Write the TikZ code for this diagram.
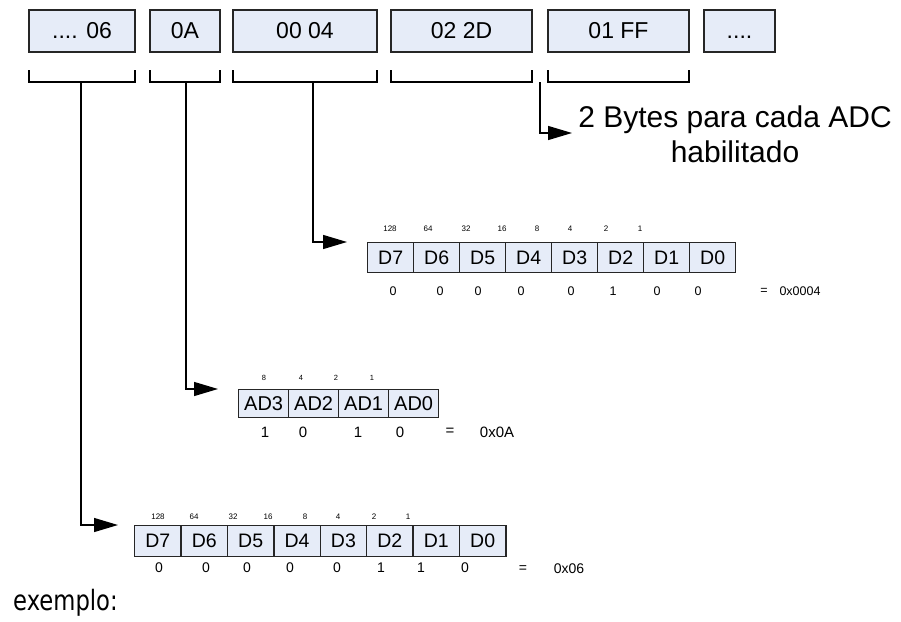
\documentclass[tikz,border=0pt]{standalone}
\usepackage{fontspec}
\usepackage{graphicx}
\setmainfont{Liberation Sans}
\newfontfamily\exfont{DejaVu Sans}
\usetikzlibrary{arrows.meta}
\definecolor{cellblue}{RGB}{230,236,248}
\tikzset{
 box/.style={draw=black!85,line width=1.3pt,fill=cellblue,inner sep=0pt,font=\fontsize{23}{26}\selectfont},
 bit/.style={box,anchor=north west,font=\fontsize{19.5}{22}\selectfont},
 wt/.style={font=\fontsize{8}{9}\selectfont,inner sep=0pt},
 val/.style={font=\fontsize{12.5}{14}\selectfont,inner sep=0pt},
 link/.style={line width=1.3pt,-{Triangle[length=24pt,width=14pt]}}
}
\begin{document}
\begin{tikzpicture}[x=1pt,y=-1pt]
\useasboundingbox (0,0) rectangle (901,621);
\node[box,minimum width=106pt,minimum height=42pt] (b1) at (82,31) {.... 06};
\node[box,minimum width=70pt,minimum height=42pt] (b2) at (185,31) {0A};
\node[box,minimum width=144pt,minimum height=42pt] (b3) at (305,31) {00 04};
\node[box,minimum width=141pt,minimum height=42pt] (b4) at (461.5,31) {02 2D};
\node[box,minimum width=141pt,minimum height=42pt] (b5) at (618.5,31) {01 FF};
\node[box,minimum width=71pt,minimum height=42pt] (b6) at (739.5,31) {\vphantom{0}....};
\foreach \a/\b in {29/135,150/220,233/377,391/532,548/689}
	\draw[line width=1.3pt] (\a,70) |- (\b,82) -- (\b,70);
\coordinate (k1) at (81,82);
\coordinate (k2) at (186,82);
\coordinate (k3) at (313,82);
\coordinate (k4) at (540,82);
\coordinate (t4) at (572,133);

\node[anchor=base,font=\fontsize{30}{35}\selectfont,inner sep=0pt] (bytes) at (735,127) {2 Bytes para cada ADC};
\node[anchor=base,font=\fontsize{30}{35}\selectfont,inner sep=0pt] (habil) at (735,162) {habilitado};
\draw[link] (k4) |- (t4);

\foreach \t [count=\i] in {D7,D6,D5,D4,D3,D2,D1,D0}
	\node[bit,minimum width=46pt,minimum height=30pt] (ra\i) at ({367+46*(\i-1)},242) {\t};
\foreach \w/\x [count=\i] in {128/390,64/428,32/466,16/502,8/537,4/570,2/606,1/640}
	\node[wt] (wa\i) at (\x,229) {\w};
\foreach \v/\x [count=\i] in {0/393,0/440,0/478,0/521,0/571,1/613,0/657,0/698}
	\node[val] (va\i) at (\x,291) {\v};
\node[val] (eqa) at (764,291) {=};
\node[val] (hexa) at (800,291) {0x0004};
\draw[link] (k3) |- ([xshift=-20pt]ra1.north west);

\foreach \t [count=\i] in {AD3,AD2,AD1,AD0}
	\node[bit,minimum width=50pt,minimum height=28pt,font=\fontsize{20}{22}\selectfont] (rb\i) at ({238+50*(\i-1)},389) {\t};
\foreach \w/\x [count=\i] in {8/264,4/301,2/336,1/372}
	\node[wt,font=\fontsize{7.5}{9}\selectfont] (wb\i) at (\x,378) {\w};
\foreach \v/\x [count=\i] in {1/265,0/303,1/358,0/400}
	\node[val,font=\fontsize{15}{17}\selectfont] (vb\i) at (\x,432) {\v};
\node[val,font=\fontsize{15}{17}\selectfont] (eqb) at (450,432) {=};
\node[val,font=\fontsize{15}{17}\selectfont] (hexb) at (497,432) {0x0A};
\draw[link] (k2) |- ([xshift=-20pt]rb1.north west);

\foreach \t [count=\i] in {D7,D6,D5,D4,D3,D2,D1,D0}
	\node[bit,minimum width=46.4pt,minimum height=31pt] (rc\i) at ({134+46.4*(\i-1)},525) {\t};
\foreach \w/\x [count=\i] in {128/158,64/194,32/233,16/268,8/305,4/338,2/374,1/408}
	\node[wt] (wc\i) at (\x,517) {\w};
\foreach \v/\x [count=\i] in {0/159,0/206,0/247,0/290,0/337,1/381,1/421,0/465}
	\node[val,font=\fontsize{14}{16}\selectfont] (vc\i) at (\x,568) {\v};
\node[val,font=\fontsize{14}{16}\selectfont] (eqc) at (523,569) {=};
\node[val,font=\fontsize{14}{16}\selectfont] (hexc) at (569,569) {0x06};
\draw[link] (k1) |- ([xshift=-16pt]rc1.north west);

\node[anchor=base west,font=\exfont\fontsize{28}{32}\selectfont,inner sep=0pt] (ex) at (13,610) {\scalebox{0.81}[1]{exemplo:}};
\end{tikzpicture}
\end{document}
